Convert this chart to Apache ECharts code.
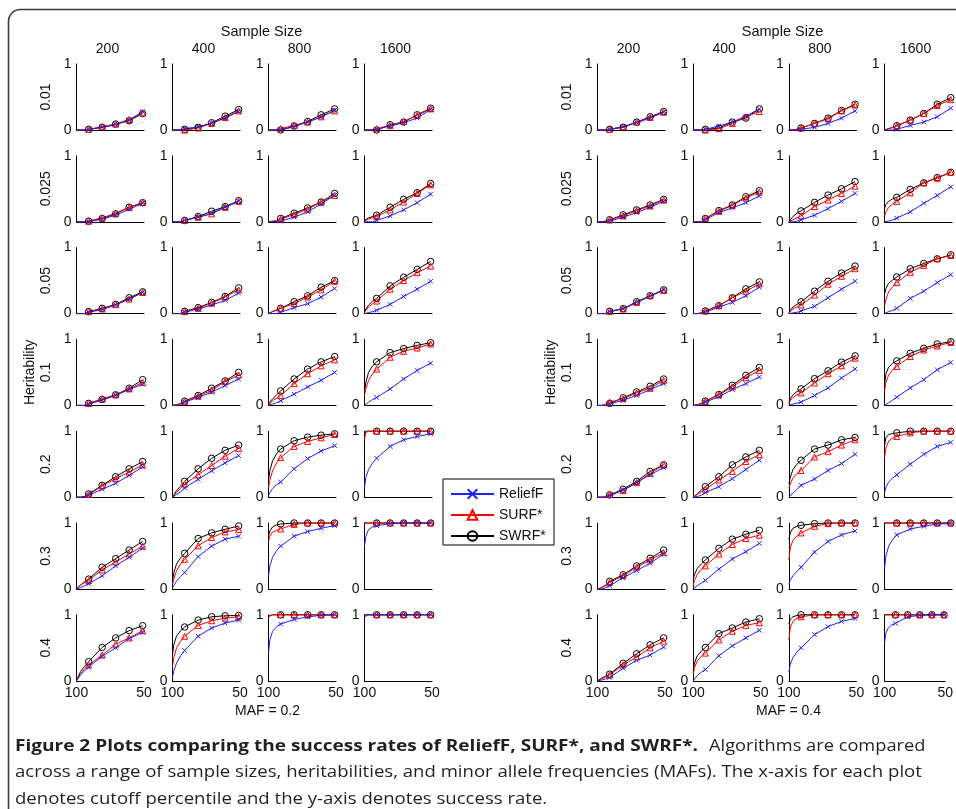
<!DOCTYPE html>
<html><head><meta charset="utf-8">
<script src="https://cdn.jsdelivr.net/npm/echarts@6/dist/echarts.min.js"></script>
<style>html,body{margin:0;padding:0;background:#fff}#c{width:956px;height:809px}</style>
</head><body><div id="c"></div>
<script>
// ---------- data ----------
const X_PCT = [100, 99, 97, 94, 91, 81, 71, 61, 51];      // cutoff percentile sample points
const MARKED = [false, false, false, false, true, true, true, true, true];
const SAMPLE_SIZES = ['200', '400', '800', '1600'];
const HERITABILITIES = ['0.01', '0.025', '0.05', '0.1', '0.2', '0.3', '0.4'];
const MAFS = ['0.2', '0.4'];
const SERIES_NAMES = ['ReliefF', 'SURF*', 'SWRF*'];
const X_TICKS = [100, 50];

// rows: heritability, cols: sample size
const reliefF_maf02 = [
 [[0,0,0,0,0.01,0.04,0.08,0.15,0.28],[0,0,0,0.005,0.02,0.05,0.1,0.18,0.28],[0,0,0,0,0,0.05,0.12,0.2,0.3],[0,0,0,0,0.01,0.06,0.11,0.18,0.31]],
 [[0,0,0,0,0,0.04,0.1,0.19,0.28],[0,0,0,0,0.02,0.07,0.13,0.22,0.31],[0,0,0,0,0.01,0.07,0.15,0.27,0.4],[0,0,0,0,0.02,0.09,0.18,0.29,0.42]],
 [[0,0,0,0,0.02,0.06,0.13,0.22,0.32],[0,0,0,0,0.02,0.07,0.13,0.2,0.31],[0,0,0,0,0.02,0.09,0.15,0.25,0.38],[0,0.005,0.015,0.03,0.05,0.14,0.26,0.37,0.49]],
 [[0,0,0,0,0.02,0.08,0.15,0.24,0.32],[0,0,0,0.01,0.05,0.12,0.2,0.3,0.4],[0,0.005,0.02,0.04,0.07,0.17,0.28,0.38,0.5],[0,0.02,0.05,0.09,0.12,0.25,0.4,0.53,0.64]],
 [[0,0,0,0.01,0.03,0.12,0.21,0.33,0.46],[0,0.01,0.04,0.08,0.14,0.27,0.4,0.52,0.63],[0.03,0.07,0.13,0.19,0.23,0.43,0.585,0.7,0.78],[0.15,0.3,0.42,0.52,0.59,0.77,0.87,0.92,0.96]],
 [[0,0.005,0.02,0.05,0.08,0.2,0.35,0.48,0.62],[0.02,0.05,0.12,0.19,0.25,0.49,0.65,0.755,0.8],[0.2,0.35,0.48,0.58,0.65,0.8,0.87,0.92,0.96],[0.65,0.8,0.9,0.94,0.96,0.99,1,1,1]],
 [[0,0.03,0.09,0.15,0.21,0.37,0.5,0.64,0.735],[0.06,0.15,0.27,0.38,0.46,0.675,0.8,0.875,0.92],[0.42,0.62,0.75,0.82,0.86,0.93,0.97,0.99,1],[0.97,0.99,1,1,1,1,1,1,1]]
];
const surf_maf02 = [
 [[0,0,0,0,0.01,0.05,0.09,0.16,0.26],[0,0,0,0,0,0.03,0.1,0.19,0.29],[0,0,0,0.005,0.02,0.07,0.12,0.2,0.29],[0,0,0,0.005,0.02,0.07,0.13,0.22,0.32]],
 [[0,0,0,0,0.01,0.06,0.13,0.22,0.29],[0,0,0,0,0.02,0.07,0.12,0.22,0.31],[0,0,0.01,0.02,0.04,0.11,0.19,0.3,0.4],[0.01,0.02,0.04,0.06,0.08,0.18,0.3,0.43,0.56]],
 [[0,0,0,0,0.03,0.07,0.14,0.22,0.32],[0,0,0,0,0.03,0.08,0.16,0.25,0.36],[0,0.01,0.03,0.06,0.08,0.15,0.25,0.36,0.49],[0.02,0.05,0.1,0.15,0.19,0.37,0.5,0.62,0.72]],
 [[0,0,0,0,0.03,0.1,0.16,0.25,0.35],[0,0,0.01,0.03,0.06,0.14,0.23,0.36,0.46],[0,0.03,0.07,0.11,0.15,0.33,0.48,0.6,0.69],[0.15,0.25,0.38,0.48,0.55,0.73,0.82,0.87,0.93]],
 [[0,0,0,0.01,0.04,0.17,0.28,0.38,0.49],[0,0.02,0.07,0.13,0.2,0.34,0.48,0.62,0.74],[0.15,0.25,0.4,0.52,0.6,0.77,0.845,0.9,0.95],[0.88,0.98,1,1,1,1,1,1,1]],
 [[0,0.02,0.06,0.1,0.13,0.29,0.41,0.53,0.65],[0.07,0.15,0.28,0.38,0.45,0.655,0.78,0.865,0.9],[0.72,0.8,0.86,0.89,0.91,0.98,1,1,1],[1,1,1,1,1,1,1,1,1]],
 [[0,0.04,0.11,0.18,0.24,0.39,0.555,0.65,0.76],[0.22,0.35,0.5,0.6,0.675,0.84,0.91,0.95,0.97],[0.97,1,1,1,1,1,1,1,1],[1,1,1,1,1,1,1,1,1]]
];
const swrf_maf02 = [
 [[0,0,0,0,0.01,0.04,0.09,0.14,0.25],[0,0,0,0,0.01,0.04,0.11,0.21,0.31],[0,0,0,0,0,0.06,0.13,0.23,0.32],[0,0,0,0,0,0.08,0.12,0.23,0.33]],
 [[0,0,0,0,0.01,0.05,0.12,0.22,0.29],[0,0,0,0,0.02,0.08,0.16,0.23,0.32],[0,0,0,0.01,0.05,0.13,0.21,0.3,0.43],[0.02,0.04,0.06,0.08,0.1,0.22,0.34,0.44,0.58]],
 [[0,0,0,0,0.03,0.08,0.14,0.24,0.33],[0,0,0,0,0.035,0.09,0.17,0.26,0.39],[0,0.01,0.03,0.05,0.08,0.18,0.27,0.4,0.5],[0.03,0.07,0.13,0.19,0.23,0.42,0.55,0.67,0.79]],
 [[0,0,0,0,0.03,0.09,0.16,0.26,0.39],[0,0,0.01,0.03,0.065,0.15,0.26,0.37,0.5],[0.01,0.05,0.1,0.16,0.22,0.4,0.55,0.66,0.74],[0.2,0.35,0.5,0.6,0.66,0.8,0.86,0.91,0.95]],
 [[0,0,0,0.01,0.05,0.18,0.31,0.43,0.54],[0,0.03,0.1,0.17,0.24,0.43,0.59,0.71,0.79],[0.25,0.4,0.55,0.66,0.73,0.855,0.91,0.94,0.96],[0.95,1,1,1,1,1,1,1,1]],
 [[0,0.02,0.06,0.11,0.15,0.33,0.46,0.59,0.72],[0.12,0.25,0.38,0.47,0.54,0.765,0.85,0.905,0.955],[0.8,0.88,0.94,0.97,0.985,1,1,1,1],[1,1,1,1,1,1,1,1,1]],
 [[0,0.05,0.14,0.22,0.29,0.505,0.65,0.76,0.835],[0.4,0.55,0.68,0.76,0.815,0.92,0.97,0.985,0.99],[0.98,1,1,1,1,1,1,1,1],[1,1,1,1,1,1,1,1,1]]
];
const reliefF_maf04 = [
 [[0,0,0,0,0.01,0.05,0.11,0.18,0.27],[0,0,0,0,0.01,0.06,0.12,0.21,0.32],[0,0,0,0,0.01,0.04,0.1,0.18,0.29],[0,0,0,0,0.01,0.07,0.12,0.2,0.33]],
 [[0,0,0,0,0.01,0.07,0.14,0.22,0.31],[0,0,0,0,0.03,0.14,0.21,0.29,0.39],[0,0,0,0.01,0.03,0.1,0.2,0.31,0.43],[0,0,0.01,0.03,0.055,0.15,0.28,0.4,0.53]],
 [[0,0,0,0,0.03,0.07,0.17,0.26,0.36],[0,0,0,0,0.02,0.1,0.17,0.27,0.4],[0,0,0.01,0.02,0.04,0.11,0.24,0.37,0.49],[0,0.01,0.03,0.05,0.08,0.23,0.34,0.47,0.59]],
 [[0,0,0,0,0.02,0.08,0.15,0.24,0.33],[0,0,0,0.01,0.05,0.13,0.24,0.33,0.43],[0,0.01,0.02,0.035,0.05,0.15,0.265,0.415,0.55],[0,0.01,0.04,0.08,0.125,0.265,0.39,0.54,0.65]],
 [[0,0,0,0,0.02,0.11,0.22,0.34,0.45],[0,0,0.01,0.03,0.07,0.16,0.28,0.42,0.56],[0,0.02,0.06,0.12,0.18,0.275,0.405,0.51,0.65],[0.07,0.15,0.23,0.29,0.34,0.5,0.65,0.77,0.83]],
 [[0,0,0,0.02,0.05,0.17,0.28,0.39,0.53],[0,0.02,0.05,0.09,0.13,0.3,0.455,0.565,0.69],[0.07,0.13,0.2,0.27,0.33,0.56,0.72,0.82,0.88],[0.32,0.5,0.65,0.75,0.82,0.91,0.95,0.985,0.99]],
 [[0,0,0.01,0.03,0.05,0.19,0.31,0.39,0.51],[0,0.03,0.08,0.13,0.17,0.38,0.53,0.65,0.765],[0.13,0.25,0.35,0.44,0.5,0.7,0.82,0.9,0.945],[0.58,0.72,0.8,0.85,0.87,0.97,0.99,1,1]]
];
const surf_maf04 = [
 [[0,0,0,0,0.01,0.05,0.12,0.19,0.27],[0,0,0,0,0,0.02,0.1,0.2,0.28],[0,0,0,0.01,0.03,0.1,0.17,0.29,0.38],[0,0.005,0.02,0.04,0.06,0.15,0.25,0.37,0.46]],
 [[0,0,0,0.01,0.03,0.09,0.17,0.24,0.33],[0,0,0,0,0.05,0.16,0.25,0.36,0.45],[0,0.01,0.03,0.06,0.09,0.23,0.33,0.43,0.54],[0.09,0.15,0.22,0.27,0.31,0.44,0.59,0.66,0.75]],
 [[0,0,0,0,0.035,0.07,0.17,0.27,0.35],[0,0,0,0.01,0.04,0.12,0.24,0.34,0.45],[0.01,0.03,0.07,0.1,0.13,0.28,0.445,0.565,0.68],[0.12,0.22,0.33,0.41,0.47,0.625,0.73,0.83,0.88]],
 [[0,0,0,0.02,0.05,0.1,0.19,0.26,0.38],[0,0,0.01,0.03,0.06,0.16,0.28,0.42,0.53],[0.03,0.07,0.12,0.16,0.19,0.34,0.48,0.6,0.715],[0.22,0.35,0.46,0.54,0.59,0.74,0.84,0.9,0.955]],
 [[0,0,0,0.01,0.04,0.1,0.22,0.36,0.49],[0,0.01,0.04,0.08,0.12,0.26,0.39,0.54,0.645],[0.14,0.2,0.29,0.36,0.405,0.61,0.69,0.79,0.87],[0.6,0.75,0.85,0.9,0.92,0.975,1,1,1]],
 [[0,0,0.02,0.05,0.1,0.2,0.33,0.44,0.55],[0.06,0.13,0.22,0.3,0.35,0.53,0.675,0.765,0.815],[0.44,0.62,0.74,0.8,0.85,0.95,0.99,1,1],[1,1,1,1,1,1,1,1,1]],
 [[0,0.01,0.03,0.06,0.09,0.24,0.36,0.5,0.6],[0.1,0.2,0.3,0.37,0.42,0.62,0.75,0.84,0.88],[0.62,0.8,0.9,0.95,0.97,1,1,1,1],[1,1,1,1,1,1,1,1,1]]
];
const swrf_maf04 = [
 [[0,0,0,0,0.01,0.04,0.12,0.2,0.28],[0,0,0,0,0.01,0.03,0.12,0.18,0.32],[0,0,0,0.01,0.03,0.1,0.18,0.295,0.39],[0,0.005,0.02,0.04,0.065,0.15,0.25,0.39,0.49]],
 [[0,0,0,0.01,0.03,0.105,0.18,0.255,0.34],[0,0,0,0,0.05,0.17,0.255,0.38,0.47],[0,0.03,0.08,0.13,0.165,0.295,0.405,0.5,0.61],[0.21,0.26,0.31,0.35,0.37,0.49,0.59,0.67,0.75]],
 [[0,0,0,0,0.035,0.075,0.18,0.27,0.36],[0,0,0,0.01,0.04,0.12,0.24,0.375,0.48],[0.02,0.05,0.1,0.14,0.18,0.34,0.49,0.615,0.72],[0.3,0.38,0.46,0.51,0.555,0.68,0.76,0.83,0.89]],
 [[0,0,0,0,0.03,0.115,0.205,0.29,0.4],[0,0,0.01,0.03,0.065,0.165,0.305,0.455,0.575],[0.04,0.1,0.16,0.21,0.25,0.405,0.525,0.655,0.75],[0.32,0.48,0.58,0.64,0.675,0.79,0.865,0.93,0.965]],
 [[0,0,0,0,0.035,0.12,0.24,0.39,0.49],[0,0.01,0.05,0.11,0.16,0.31,0.49,0.61,0.71],[0.2,0.3,0.42,0.5,0.56,0.73,0.79,0.87,0.905],[0.79,0.9,0.95,0.965,0.975,1,1,1,1]],
 [[0,0,0.02,0.06,0.115,0.215,0.35,0.465,0.59],[0.15,0.22,0.31,0.38,0.44,0.615,0.755,0.83,0.89],[0.75,0.85,0.92,0.95,0.965,0.99,1,1,1],[1,1,1,1,1,1,1,1,1]],
 [[0,0.01,0.04,0.07,0.1,0.265,0.41,0.545,0.65],[0.15,0.27,0.38,0.45,0.505,0.715,0.8,0.89,0.94],[0.86,0.93,0.97,0.99,1,1,1,1,1],[1,1,1,1,1,1,1,1,1]]
];

const CAPTION_BOLD = 'Figure 2 Plots comparing the success rates of ReliefF, SURF*, and SWRF*.';
const CAPTION_LINES = [
  'Algorithms are compared',
  'across a range of sample sizes, heritabilities, and minor allele frequencies (MAFs). The x-axis for each plot',
  'denotes cutoff percentile and the y-axis denotes success rate.'
];

// ---------- layout & style ----------
const PANEL_LEFT = [76.5, 597.5];
const COL_DX = [96, 95.7];
const ROW_TOP0 = 64, ROW_DY = 91.8, PW = 67.5, PH = 66;
const FONT = '"Liberation Sans", Arial, sans-serif';
const TXT = '#111';
const STYLE = {
  'ReliefF': { color: '#2020ff', symbol: 'path://M0,0L10,10M10,0L0,10', size: 4.5, width: 1 },
  'SURF*':   { color: '#ff0000', symbol: 'triangle', size: 6, width: 1 },
  'SWRF*':   { color: '#000000', symbol: 'circle', size: 6.5, width: 1 }
};
const DRAW_ORDER = ['SWRF*', 'SURF*', 'ReliefF'];
const DATA = {
  '0.2': { 'ReliefF': reliefF_maf02, 'SURF*': surf_maf02, 'SWRF*': swrf_maf02 },
  '0.4': { 'ReliefF': reliefF_maf04, 'SURF*': surf_maf04, 'SWRF*': swrf_maf04 }
};

const grids = [], xAxes = [], yAxes = [], series = [], graphics = [];
const axisLine = { show: true, onZero: false, lineStyle: { color: '#000', width: 1 } };

MAFS.forEach((maf, p) => {
  HERITABILITIES.forEach((h, r) => {
    SAMPLE_SIZES.forEach((n, c) => {
      const gi = grids.length;
      const left = PANEL_LEFT[p] + COL_DX[p] * c;
      const top = ROW_TOP0 + ROW_DY * r;
      grids.push({ left: left, top: top, width: PW, height: PH, containLabel: false });
      const bottom = r === HERITABILITIES.length - 1;
      xAxes.push({
        gridIndex: gi, type: 'value', min: X_TICKS[1], max: X_TICKS[0], interval: 50, inverse: true,
        axisLine: axisLine, axisTick: { show: false }, splitLine: { show: false },
        axisLabel: { show: bottom, margin: 5, fontSize: 14, fontFamily: FONT, color: TXT, showMinLabel: true, showMaxLabel: true }
      });
      yAxes.push({
        gridIndex: gi, type: 'value', min: 0, max: 1, interval: 1,
        axisLine: axisLine, axisTick: { show: false }, splitLine: { show: false },
        axisLabel: { show: true, margin: 5, fontSize: 14, fontFamily: FONT, color: TXT }
      });
      DRAW_ORDER.forEach(name => {
        const st = STYLE[name];
        const vals = DATA[maf][name][r][c];
        series.push({
          name: name, type: 'line', xAxisIndex: gi, yAxisIndex: gi,
          data: vals.map((v, i) => MARKED[i] ? [X_PCT[i], v] : { value: [X_PCT[i], v], symbol: 'none' }),
          symbol: st.symbol, symbolSize: st.size, showAllSymbol: true, clip: false,
          lineStyle: { color: st.color, width: st.width },
          itemStyle: { color: 'rgba(0,0,0,0)', borderColor: st.color, borderWidth: 1 },
          emphasis: { disabled: true }, animation: false
        });
      });
    });
    graphics.push({
      type: 'text', x: PANEL_LEFT[p] - 30, y: ROW_TOP0 + ROW_DY * r + PH / 2, rotation: Math.PI / 2,
      style: { text: h, font: '14px ' + FONT, fill: TXT, align: 'center', verticalAlign: 'middle' }
    });
  });
  graphics.push({
    type: 'text', x: PANEL_LEFT[p] - 46.5, y: ROW_TOP0 + ROW_DY * 3 + PH / 2, rotation: Math.PI / 2,
    style: { text: 'Heritability', font: '14px ' + FONT, fill: TXT, align: 'center', verticalAlign: 'middle' }
  });
  graphics.push({
    type: 'text', x: PANEL_LEFT[p] + 185, y: 32,
    style: { text: 'Sample Size', font: '14.5px ' + FONT, fill: TXT, align: 'center', verticalAlign: 'middle' }
  });
  SAMPLE_SIZES.forEach((n, c) => {
    graphics.push({
      type: 'text', x: PANEL_LEFT[p] + COL_DX[p] * c + 31, y: 49,
      style: { text: n, font: '14px ' + FONT, fill: TXT, align: 'center', verticalAlign: 'middle' }
    });
  });
  graphics.push({
    type: 'text', x: PANEL_LEFT[p] + 191, y: 711,
    style: { text: 'MAF = ' + maf, font: '14px ' + FONT, fill: TXT, align: 'center', verticalAlign: 'middle' }
  });
});

// figure border
graphics.push({
  type: 'rect', shape: { x: 8.5, y: 9.5, width: 1100, height: 1000, r: [12, 0, 0, 0] },
  style: { fill: 'none', stroke: '#3a3a3a', lineWidth: 1.6 }, z: 0
});
// legend box
graphics.push({
  type: 'rect', shape: { x: 443, y: 479, width: 111, height: 66 },
  style: { fill: '#fff', stroke: '#000', lineWidth: 1 }, z: 5
});
// caption
const CAP_FONT = '"Open Sans", "Noto Sans", sans-serif';
const CAP_COLOR = '#231f20';
graphics.push({
  type: 'text', x: 15, y: 746, scaleX: 1.19,
  style: { text: CAPTION_BOLD, font: 'bold 16px ' + CAP_FONT, fill: CAP_COLOR, verticalAlign: 'middle' }
});
graphics.push({
  type: 'text', x: 709, y: 746, scaleX: 1.14,
  style: { text: CAPTION_LINES[0], font: '16px ' + CAP_FONT, fill: CAP_COLOR, verticalAlign: 'middle' }
});
[CAPTION_LINES[1], CAPTION_LINES[2]].forEach((t, i) => {
  graphics.push({
    type: 'text', x: 15, y: 772.5 + 26.5 * i, scaleX: 1.16,
    style: { text: t, font: '16px ' + CAP_FONT, fill: CAP_COLOR, verticalAlign: 'middle' }
  });
});

const chart = echarts.init(document.getElementById('c'), null, { renderer: 'canvas' });
chart.setOption({
  animation: false,
  grid: grids, xAxis: xAxes, yAxis: yAxes, series: series,
  legend: {
    data: SERIES_NAMES, orient: 'vertical', left: 450, top: 487, padding: 0,
    itemWidth: 43, itemHeight: 12, itemGap: 7, selectedMode: false, z: 10,
    textStyle: { fontSize: 14, fontFamily: FONT, color: TXT }
  },
  graphic: { elements: graphics }
});
</script>
</body></html>
